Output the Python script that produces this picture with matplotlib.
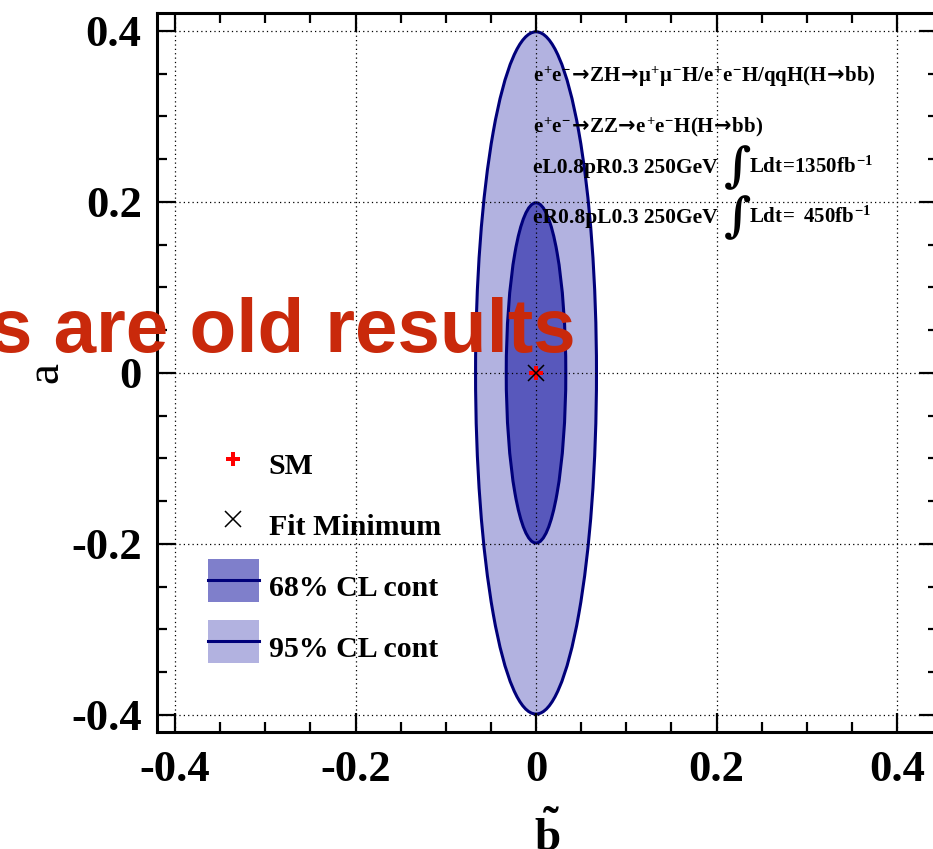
import matplotlib
matplotlib.use("Agg")
import matplotlib.pyplot as plt
from matplotlib.patches import Ellipse, Patch, Rectangle
from matplotlib.lines import Line2D
from matplotlib.legend_handler import HandlerTuple, HandlerPatch

# fit result in the (b~, a) plane
fit_min = (0.0, 0.0)
sm_point = (0.0, 0.0)
cl_labels = ["68% CL cont", "95% CL cont"]
cl_half_b = [0.033, 0.067]   # half width along b~
cl_half_a = [0.199, 0.399]   # half height along a
cl_alpha = [0.5, 0.3]

major_ticks = [-0.4, -0.2, 0.0, 0.2, 0.4]
tick_labels = ["-0.4", "-0.2", "0", "0.2", "0.4"]
minor_ticks = [-0.4 + 0.05 * i for i in range(17)]

ARR = r"\!\mathsf{\rightarrow}\!"
info_lines = [
    r"$e^{+}e^{-}" + ARR + r"ZH" + ARR + r"\mu^{+}\mu^{-}H/e^{+}e^{-}H/qqH(H" + ARR + r"bb)$",
    r"$e^{+}e^{-}" + ARR + r"ZZ" + ARR + r"e^{+}e^{-}H(H" + ARR + r"bb)$",
]
lumi_setup = ["eL0.8pR0.3 250GeV", "eR0.8pL0.3 250GeV"]
lumi_text = [r"$Ldt\!=\!1350fb^{-1}$", r"$Ldt\!=\ 450fb^{-1}$"]

W, H = 933, 849
navy = "#00007a"
fill = (0.0, 0.0, 0.6)
serif = "Liberation Serif"

plt.rcParams["font.family"] = serif
plt.rcParams["font.weight"] = "bold"
plt.rcParams["mathtext.fontset"] = "custom"
plt.rcParams["mathtext.rm"] = "Liberation Serif:bold"
plt.rcParams["mathtext.it"] = "Liberation Serif:bold"
plt.rcParams["mathtext.bf"] = "Liberation Serif:bold"
plt.rcParams["mathtext.sf"] = "DejaVu Sans"


def px(x, y):
    return x / W, 1 - y / H


def centred_box(legend, orig_handle, xdescent, ydescent, width, height, fontsize):
    # box centred on the line drawn by HandlerLine2D
    return Rectangle((-xdescent, (height - ydescent) / 2 - height / 2), width, height)


fig = plt.figure(figsize=(W / 100, H / 100), dpi=100)
ax = fig.add_axes([157 / W, 1 - 732 / H, (937.6 - 157) / W, (732 - 13) / H])
ax.set_xlim(-0.42, 0.445)
ax.set_ylim(-0.42, 0.421)

# contours, outer first
for i in [1, 0]:
    e = Ellipse(fit_min, 2 * cl_half_b[i], 2 * cl_half_a[i],
                facecolor=fill + (cl_alpha[i],), edgecolor=navy, lw=2.2, zorder=1)
    ax.add_patch(e)

ax.plot(*sm_point, marker="P", color="red", ms=10, mew=0, ls="none", zorder=6)
ax.plot(*fit_min, marker="x", color="black", ms=11, mew=1.1, ls="none", zorder=7)

ax.set_xticks(major_ticks)
ax.set_xticklabels(tick_labels)
ax.set_yticks(major_ticks)
ax.set_yticklabels(tick_labels)
ax.set_xticks(minor_ticks, minor=True)
ax.set_yticks(minor_ticks, minor=True)
ax.tick_params(which="both", direction="in", top=True, right=True, width=1.6)
ax.tick_params(which="major", length=13.5, labelsize=32)
ax.tick_params(which="minor", length=7.2)
ax.tick_params(axis="y", pad=11)
ax.tick_params(axis="x", pad=13)
for s in ax.spines.values():
    s.set_linewidth(2.2)
ax.set_axisbelow(False)
ax.grid(True, which="major", color="black", linestyle=(0, (1, 2.5)), linewidth=0.9)

ax.set_xlabel(r"$\tilde{b}$", fontsize=34)
ax.xaxis.set_label_coords(0.5, -0.112)
ax.xaxis.label.set_va("top")
ax.set_ylabel("a", fontsize=34)
ax.yaxis.set_label_coords(-0.115, 0.5)

# legend
handles = [
    Line2D([], [], marker="P", color="red", ms=10, mew=0, ls="none"),
    Line2D([], [], marker="x", color="black", ms=11, mew=1.1, ls="none"),
]
for i in range(2):
    handles.append((Patch(facecolor=fill + (cl_alpha[i],), edgecolor="none"),
                    Line2D([], [], color=navy, lw=2.2)))
ax.legend(handles, ["SM", "Fit Minimum"] + cl_labels,
          handler_map={tuple: HandlerTuple(ndivide=1, pad=0),
                       Patch: HandlerPatch(patch_func=centred_box)},
          loc="upper left", bbox_to_anchor=px(208, 443), bbox_transform=fig.transFigure,
          frameon=False, borderpad=0, borderaxespad=0, fontsize=21.5,
          handlelength=1.7, handleheight=1.835, handletextpad=0.33, labelspacing=0.6)

# process / luminosity text
for i, t in enumerate(info_lines):
    fig.text(*px(533, 82 + 50 * i), t, fontsize=15, ha="left", va="baseline")
for i in range(2):
    y = 173 + 50 * i
    fig.text(*px(533, y), lumi_setup[i], fontsize=15.5, ha="left", va="baseline")
    fig.text(*px(738, y - 5), "\u222b", fontsize=34, family="DejaVu Serif",
             ha="center", va="center")
    fig.text(*px(749, y), lumi_text[i], fontsize=15, ha="left", va="baseline")

fig.text(*px(576, 352), "s are old results", fontsize=55, family="Liberation Sans",
         weight="bold", color="#c9290b", ha="right", va="baseline", zorder=10)

fig.savefig("out.png", dpi=100)
